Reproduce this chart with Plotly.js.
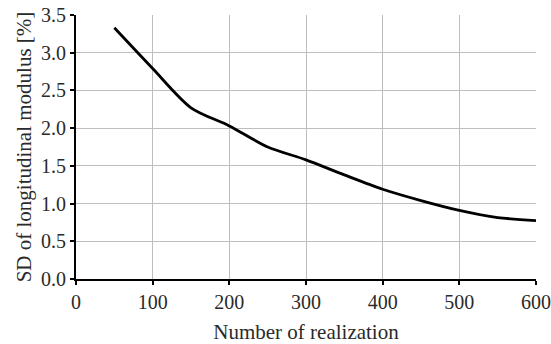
<!DOCTYPE html>
<html>
<head>
<meta charset="utf-8">
<script src="https://cdn.plot.ly/plotly-3.0.1.min.js"></script>
<style>html,body{margin:0;padding:0;background:#fff;}#chart{width:551px;height:344px;}</style>
</head>
<body>
<div id="chart"></div>
<script>
const realizations = [50, 100, 150, 200, 250, 300, 350, 400, 450, 500, 550, 600];
const sdModulus = [3.33, 2.79, 2.27, 2.03, 1.75, 1.58, 1.38, 1.19, 1.04, 0.91, 0.815, 0.775];
const xTicks = [0, 100, 200, 300, 400, 500, 600];
const yTicks = [0, 0.5, 1.0, 1.5, 2.0, 2.5, 3.0, 3.5];

const trace = {
  x: realizations,
  y: sdModulus,
  type: 'scatter',
  mode: 'lines',
  line: {color: '#000', width: 2.8, shape: 'spline', smoothing: 0.8},
  hoverinfo: 'skip'
};

const fam = '"Liberation Serif", "Times New Roman", serif';
const tickFont = {family: fam, size: 20, color: '#2a2a2a'};
const xTitleFont = {family: fam, size: 21, color: '#2a2a2a'};
const yTitleFont = {family: fam, size: 21, color: '#2a2a2a'};

const layout = {
  width: 551, height: 344,
  margin: {l: 76, r: 15, t: 15, b: 65},
  paper_bgcolor: '#fff', plot_bgcolor: '#fff',
  showlegend: false,
  font: tickFont,
  xaxis: {
    range: [0, 600],
    tickvals: xTicks,
    ticktext: xTicks.map(String),
    showgrid: true, gridcolor: '#bdbdbd', gridwidth: 1,
    showline: true, linecolor: '#000', linewidth: 2,
    ticks: 'outside', ticklen: 4, tickwidth: 2, tickcolor: '#000',
    zeroline: false,
    tickfont: tickFont,
    title: {text: 'Number of realization', font: xTitleFont, standoff: 12}
  },
  yaxis: {
    range: [0, 3.5],
    tickvals: yTicks,
    ticktext: yTicks.map(v => v.toFixed(1)),
    showgrid: true, gridcolor: '#bdbdbd', gridwidth: 1,
    showline: true, linecolor: '#000', linewidth: 2,
    ticks: 'outside', ticklen: 4, tickwidth: 2, tickcolor: '#000',
    zeroline: false,
    tickfont: tickFont,
    title: {text: 'SD of longitudinal modulus [%]', font: yTitleFont, standoff: 4}
  }
};

Plotly.newPlot('chart', [trace], layout, {staticPlot: true, displayModeBar: false});
</script>
</body>
</html>
